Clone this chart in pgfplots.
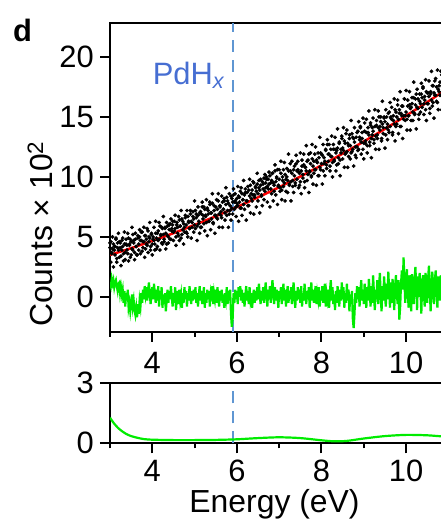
\documentclass[border=0pt]{standalone}
\usepackage{fontspec}
\setmainfont{Liberation Sans}
\usepackage{pgfplots}
\usepackage{pgfplotstable}
\pgfplotsset{compat=1.18}

\definecolor{resgreen}{RGB}{0,235,0}
\definecolor{pdblue}{RGB}{70,110,210}
\definecolor{dashblue}{RGB}{95,150,210}

% energy, two counts readings per step, residual (counts x 10^2)
\pgfplotstableread{
x y1 y2 r
3.00 4.1 4.5 1.2
3.02 4.6 2.9 0.9
3.04 3.6 3.7 1.5
3.06 4.0 5.0 1.1
3.08 4.4 2.5 1.4
3.10 3.9 4.2 0.8
3.12 4.2 3.5 1.2
3.14 4.8 4.9 1.4
3.16 3.2 2.9 0.9
3.18 4.5 4.1 0.5
3.20 3.9 5.3 1.1
3.22 4.6 3.3 1.2
3.24 4.1 4.5 0.3
3.26 3.4 2.6 0.8
3.28 4.7 3.9 0.2
3.30 4.2 4.9 0.6
3.32 3.0 3.6 -0.5
3.34 4.4 5.4 0.5
3.36 3.7 3.1 -0.8
3.38 4.8 4.4 0.3
3.40 4.3 3.9 -0.3
3.42 3.6 5.3 0.6
3.44 4.9 3.0 -0.9
3.46 4.4 4.3 -0.5
3.48 3.3 4.8 -1.2
3.50 4.6 3.5 -0.6
3.52 4.0 5.8 0.2
3.54 5.2 3.9 -0.8
3.56 4.5 4.7 -0.3
3.58 3.7 3.1 -1.1
3.60 4.8 5.3 -1.5
3.62 4.2 4.2 -0.9
3.64 3.5 3.5 -1.7
3.66 4.9 5.1 -0.6
3.68 4.4 3.9 -1.4
3.70 5.0 5.6 -0.3
3.72 3.6 4.7 -0.8
3.74 4.7 5.4 0.3
3.76 5.4 3.8 -0.5
3.78 4.1 4.6 0.6
3.80 4.6 5.8 -0.2
3.82 5.1 3.3 0.9
3.84 4.0 5.1 0.2
3.86 4.8 4.4 0.8
3.88 4.3 5.7 -0.3
3.90 5.5 3.7 0.5
3.92 4.6 5.0 1.2
3.94 4.9 6.2 0.3
3.96 3.9 4.2 -0.6
3.98 5.2 5.3 0.2
4.00 4.4 3.5 0.8
4.02 5.0 4.8 -0.2
4.04 4.7 5.8 1.1
4.06 3.9 4.4 0.3
4.08 5.3 6.3 -0.5
4.10 4.9 4.0 0.6
4.12 4.2 5.3 -0.3
4.14 5.5 4.7 0.9
4.16 4.8 6.2 -0.8
4.18 5.9 3.9 0.5
4.20 5.1 5.2 -0.2
4.22 4.5 5.8 0.8
4.24 5.7 4.4 -0.9
4.26 5.2 6.7 0.2
4.28 4.6 4.8 -0.6
4.30 5.8 5.7 0.3
4.32 5.3 4.0 -1.2
4.34 4.4 6.2 -0.3
4.36 5.9 5.1 0.6
4.38 5.0 4.5 -0.5
4.40 5.6 6.0 0.5
4.42 6.1 4.8 -0.2
4.44 4.8 6.5 0.9
4.46 5.5 5.7 0.0
4.48 6.0 6.3 -0.8
4.50 5.4 4.7 0.3
4.52 6.3 5.5 -0.5
4.54 5.7 6.8 0.8
4.56 5.0 4.3 -1.1
4.58 6.2 6.0 -0.2
4.60 5.8 5.3 0.5
4.62 5.1 6.7 -0.6
4.64 6.4 4.7 0.6
4.66 5.9 5.9 -0.3
4.68 4.9 7.2 0.2
4.70 6.5 5.2 -0.9
4.72 5.6 6.3 0.3
4.74 6.1 4.4 -0.5
4.76 5.4 5.8 0.8
4.78 6.6 6.8 -0.2
4.80 6.0 5.4 0.5
4.82 5.3 7.2 -0.8
4.84 6.7 5.0 0.3
4.86 6.2 6.3 -0.3
4.88 5.7 5.7 0.9
4.90 6.9 7.2 0.0
4.92 6.3 4.9 -0.6
4.94 5.8 6.2 0.5
4.96 7.1 6.7 -0.3
4.98 6.5 5.4 0.6
5.00 6.0 8.0 -0.2
5.02 7.2 5.7 0.8
5.04 6.6 6.9 -0.5
5.06 5.9 4.7 0.3
5.08 6.8 7.5 -0.8
5.10 6.3 6.1 0.2
5.12 7.0 5.3 0.9
5.14 5.8 7.1 -0.3
5.16 6.9 5.8 0.5
5.18 7.5 7.9 -0.6
5.20 6.5 6.8 0.0
5.22 6.1 7.5 0.8
5.24 7.3 5.5 -0.9
5.26 6.8 6.7 0.3
5.28 6.2 8.1 -0.5
5.30 7.4 5.1 0.6
5.32 6.9 7.2 -0.2
5.34 6.3 6.3 0.5
5.36 7.7 7.9 -0.8
5.38 7.0 5.6 0.2
5.40 6.5 7.0 -0.3
5.42 7.8 8.6 0.9
5.44 6.2 6.1 -0.6
5.46 7.2 7.6 0.3
5.48 6.8 5.3 -0.2
5.50 7.5 6.8 0.6
5.52 6.6 8.1 -0.5
5.54 7.3 6.5 0.8
5.56 8.0 8.6 0.0
5.58 6.9 5.8 -0.8
5.60 7.6 7.5 0.5
5.62 7.1 6.8 -0.3
5.64 6.6 8.4 0.6
5.66 7.9 5.8 -0.5
5.68 7.3 7.3 0.2
5.70 8.2 8.0 -0.9
5.72 7.0 6.4 0.3
5.74 7.7 9.1 -0.2
5.76 8.3 6.8 0.8
5.78 7.2 8.0 -0.6
5.80 7.8 5.8 0.5
5.82 6.9 8.6 -0.3
5.84 7.6 7.2 0.6
5.86 8.4 6.4 -1.4
5.88 7.4 8.2 -2.5
5.90 7.9 6.9 -1.8
5.92 8.5 9.0 0.3
5.94 7.3 7.9 -0.5
5.96 8.0 8.6 0.6
5.98 7.5 6.7 -0.2
6.00 8.2 7.8 0.5
6.02 7.6 9.2 -0.6
6.04 8.4 6.3 0.8
6.06 7.9 8.3 0.0
6.08 8.8 7.4 0.9
6.10 7.4 9.1 -0.3
6.12 8.6 6.8 0.6
6.14 8.1 8.1 -0.5
6.16 7.7 9.7 0.3
6.18 8.5 7.3 -0.8
6.20 9.0 8.7 0.2
6.22 8.0 6.4 0.9
6.24 8.7 8.0 -0.3
6.26 7.6 9.2 0.5
6.28 8.9 7.6 -0.6
6.30 8.4 9.8 0.8
6.32 9.3 7.0 -0.2
6.34 8.2 8.6 0.3
6.36 8.9 8.0 -0.9
6.38 8.5 9.6 0.0
6.40 9.5 6.9 0.6
6.42 8.3 8.5 -0.5
6.44 9.1 9.2 0.5
6.46 8.8 7.5 -0.3
6.48 9.4 10.3 0.8
6.50 8.6 8.0 -0.2
6.52 9.7 9.1 1.1
6.54 8.9 7.0 0.2
6.56 9.3 9.8 -0.6
6.58 8.5 8.4 0.5
6.60 9.6 7.6 -0.3
6.62 9.0 9.4 0.8
6.64 9.9 8.1 -0.5
6.66 8.8 10.2 0.3
6.68 9.5 9.1 1.2
6.70 10.0 9.8 0.2
6.72 9.2 7.9 -0.8
6.74 9.8 9.0 0.6
6.76 9.4 10.4 -0.2
6.78 10.1 7.5 0.9
6.80 9.0 9.5 -0.5
6.82 9.7 8.6 0.3
6.84 10.3 10.3 1.4
6.86 9.5 8.0 0.5
6.88 8.8 9.3 -0.6
6.90 10.5 11.0 0.8
6.92 9.6 8.5 -0.3
6.94 10.0 9.9 0.6
6.96 10.6 7.7 0.0
6.98 9.3 9.2 -0.9
7.00 9.8 10.6 0.5
7.02 9.1 8.8 -0.2
7.04 10.3 11.3 0.8
7.06 8.9 8.1 -0.6
7.08 9.7 10.0 0.3
7.10 10.6 9.2 1.1
7.12 9.5 11.2 -0.3
7.14 10.2 8.0 0.6
7.16 8.8 9.8 -0.8
7.18 10.0 10.7 0.2
7.20 9.7 8.7 0.9
7.22 10.5 11.9 -0.5
7.24 9.4 9.3 0.5
7.26 11.1 10.5 -0.2
7.28 9.6 8.0 0.8
7.30 10.3 11.3 -0.6
7.32 9.2 9.7 0.3
7.34 10.6 8.7 1.2
7.36 10.1 10.9 0.0
7.38 9.5 9.3 -0.9
7.40 11.1 11.8 0.5
7.42 9.8 10.5 -0.3
7.44 10.6 11.3 0.8
7.46 10.4 9.1 -0.2
7.48 9.3 10.3 0.6
7.50 9.6 12.0 -0.5
7.52 10.5 8.6 0.9
7.54 11.4 10.9 -0.8
7.56 10.2 9.9 0.3
7.58 11.0 11.9 -0.3
7.60 9.6 9.1 1.1
7.62 10.8 10.8 0.2
7.64 10.5 12.6 -0.6
7.66 11.3 9.7 0.5
7.68 10.2 11.4 -0.2
7.70 11.9 8.7 0.8
7.72 10.4 10.5 -0.9
7.74 11.1 12.0 0.3
7.76 10.0 10.1 1.2
7.78 11.5 12.7 -0.3
7.80 10.9 9.4 0.6
7.82 10.3 11.3 -0.5
7.84 11.9 10.6 0.2
7.86 10.6 12.5 0.9
7.88 11.4 9.3 -0.6
7.90 11.2 11.2 0.3
7.92 10.1 12.0 -0.2
7.94 11.6 10.1 0.8
7.96 10.8 13.3 -0.8
7.98 12.0 10.6 0.5
8.00 11.1 11.9 -0.3
8.02 11.8 9.4 0.9
8.04 10.5 12.7 -0.5
8.06 11.6 11.1 0.2
8.08 11.3 10.1 1.1
8.10 12.2 12.3 -0.8
8.12 11.0 10.7 0.3
8.14 12.7 13.1 -0.2
8.16 11.3 11.9 0.6
8.18 11.9 12.7 -0.9
8.20 10.9 10.5 0.5
8.22 12.3 11.7 1.4
8.24 11.7 13.4 -0.3
8.26 11.2 10.0 0.8
8.28 12.7 12.3 -0.6
8.30 11.4 11.3 0.2
8.32 12.3 13.3 -1.1
8.34 12.0 10.5 0.5
8.36 11.0 12.2 -0.5
8.38 12.4 14.0 0.9
8.40 11.6 11.1 0.0
8.42 12.9 12.8 -0.8
8.44 11.4 10.1 0.6
8.46 12.3 12.0 -0.3
8.48 13.2 13.4 1.2
8.50 12.4 11.5 -0.2
8.52 12.2 14.1 0.8
8.54 13.0 10.8 -0.9
8.56 11.9 12.8 0.3
8.58 13.6 12.0 -0.5
8.60 12.1 13.9 1.1
8.62 12.8 10.8 -0.3
8.64 11.7 12.6 0.6
8.66 13.2 13.5 -1.2
8.68 12.6 11.5 0.2
8.70 12.0 14.7 -0.6
8.72 13.6 12.1 0.5
8.74 12.3 13.3 -1.8
8.76 13.2 10.9 -2.6
8.78 12.9 14.1 -1.4
8.80 11.8 12.5 0.3
8.82 13.3 11.6 -0.5
8.84 12.5 13.7 0.9
8.86 13.8 12.2 -0.2
8.88 12.3 14.6 0.8
8.90 13.1 13.3 -0.8
8.92 14.1 14.2 0.5
8.94 12.9 11.9 1.4
8.96 13.7 13.2 -0.3
8.98 12.3 14.9 0.6
9.00 12.8 11.5 -0.6
9.02 14.5 13.8 1.1
9.04 13.0 12.8 0.2
9.06 13.7 14.8 -0.9
9.08 12.6 12.0 0.8
9.10 14.1 13.7 -0.3
9.12 13.5 15.5 1.5
9.14 12.9 12.6 0.5
9.16 14.5 14.3 -0.8
9.18 13.2 11.6 0.9
9.20 14.1 13.5 -0.5
9.22 13.8 14.9 1.8
9.24 12.8 13.1 0.3
9.26 14.2 15.6 -1.1
9.28 13.4 12.3 0.6
9.30 14.7 14.3 -0.2
9.32 13.2 13.5 1.4
9.34 14.1 15.5 -0.6
9.36 15.0 12.3 0.8
9.38 13.9 14.2 2.0
9.40 14.6 15.0 0.0
9.42 13.2 13.0 -1.2
9.44 14.4 16.3 0.9
9.46 14.1 13.6 -0.3
9.48 15.0 14.9 1.7
9.50 14.6 12.4 0.3
9.52 13.5 15.6 -0.8
9.54 15.0 14.1 1.1
9.56 14.4 13.1 -0.2
9.58 13.9 15.3 2.1
9.60 15.4 13.7 0.5
9.62 14.2 16.2 -0.9
9.64 15.0 14.9 1.2
9.66 14.8 15.8 -0.5
9.68 13.7 13.5 1.5
9.70 15.1 14.7 0.2
9.72 14.4 16.5 -1.1
9.74 15.6 13.0 0.9
9.76 14.2 15.4 1.8
9.78 15.0 14.4 0.3
9.80 16.0 16.4 -0.6
9.82 14.8 13.6 1.4
9.84 15.6 15.3 -1.9
9.86 14.2 17.1 -0.8
9.88 15.3 14.2 1.1
9.90 15.1 15.9 2.2
9.92 15.9 13.2 0.6
9.94 14.8 15.1 3.3
9.96 16.5 16.5 1.5
9.98 15.1 14.7 -0.5
10.00 15.4 17.2 1.2
10.02 14.8 13.9 2.3
10.04 16.4 15.9 0.3
10.06 15.1 15.1 -0.9
10.08 16.0 17.1 1.8
10.10 15.7 13.9 0.6
10.12 14.7 15.8 -1.2
10.14 16.1 16.6 1.9
10.16 15.4 14.7 0.5
10.18 16.6 17.9 -0.6
10.20 15.2 15.3 1.4
10.22 16.0 16.5 2.5
10.24 16.9 14.0 0.8
10.26 15.8 17.3 -1.1
10.28 16.5 15.7 1.7
10.30 15.2 14.8 0.0
10.32 16.3 16.9 2.0
10.34 16.1 15.4 0.6
10.36 16.9 17.8 -1.4
10.38 15.8 16.6 1.2
10.40 17.5 17.4 1.8
10.42 16.1 15.2 0.3
10.44 16.7 16.4 -0.8
10.46 15.6 18.1 2.0
10.48 17.1 14.7 0.9
10.50 16.1 17.0 -0.5
10.52 17.0 16.1 1.5
10.54 16.7 18.0 2.6
10.56 15.7 15.3 0.6
10.58 17.1 16.9 -1.2
10.60 16.4 18.8 1.1
10.62 17.6 15.9 2.1
10.64 16.2 17.6 0.2
10.66 17.0 14.9 -0.6
10.68 18.0 16.8 1.4
10.70 16.8 18.2 2.2
10.72 17.5 16.3 0.5
10.74 16.2 18.9 -0.9
10.76 17.3 15.6 1.7
10.78 17.1 17.6 0.8
10.80 17.9 16.8 -0.3
10.82 16.8 18.8 1.8
10.84 18.5 15.6 0.6
10.86 17.1 17.5 -0.8
10.88 17.7 18.3 1.2
10.90 16.7 16.4 0.3
}\spectrum

\begin{document}
\begin{tikzpicture}
\pgfplotsset{
  panel/.style={
    scale only axis,
    width=380.7bp,
    xmin=3, xmax=12,
    axis line style={line width=2bp},
    every tick/.style={line width=2bp, black},
    tick align=outside,
    tick pos=left,
    xtick={4,6,8,10},
    minor xtick={3,5,7,9,11},
    major tick length=10bp,
    minor tick length=5bp,
    ticklabel style={font=\fontsize{31}{36}\selectfont},
    xticklabel style={inner sep=0pt, yshift=-10bp},
    yticklabel style={inner sep=0pt, xshift=-6bp},
    /pgf/number format/assume math mode=true,
  }
}
% upper panel: spectrum, fit and residual
\begin{axis}[panel, at={(110bp,188.3bp)}, anchor=south west,
  height=309bp, ymin=-2.9, ymax=22.85, ytick={0,5,10,15,20}]
\addplot[dashblue, line width=2bp, dash pattern=on 12bp off 8bp] coordinates {(5.9,-2.9) (5.9,22.85)};
\addplot[only marks, mark=*, mark size=1.7bp, black] table[x=x, y=y1] {\spectrum};
\addplot[only marks, mark=*, mark size=1.7bp, black] table[x=x, y=y2] {\spectrum};
\addplot[resgreen, line width=2.2bp] table[x=x, y=r] {\spectrum};
\addplot[red, line width=2.5bp, smooth] coordinates {
  (3.0,3.50) (3.5,4.06) (4.0,4.67) (4.5,5.31) (5.0,6.00) (5.5,6.72)
  (6.0,7.49) (6.5,8.30) (7.0,9.14) (7.5,10.03) (8.0,10.97) (8.5,11.94)
  (9.0,12.95) (9.5,14.00) (10.0,15.10) (10.5,16.23) (11.0,17.41)
  (11.5,18.62) (12.0,19.89)};
\node[pdblue, anchor=base east, font=\fontsize{31}{36}\selectfont, inner sep=0pt]
  at (axis cs:5.72,17.67) {PdH\textsubscript{\textit{x}}};
\end{axis}
% lower panel
\begin{axis}[panel, at={(110bp,76.7bp)}, anchor=south west,
  height=60bp, ymin=0, ymax=3, ytick={0,3},
  xticklabel style={yshift=3.5bp}]
\addplot[dashblue, line width=2bp, dash pattern=on 12bp off 8bp] coordinates {(5.9,0) (5.9,3)};
\addplot[resgreen, line width=2.2bp, smooth] coordinates {
  (3.0,1.28) (3.1,0.98) (3.2,0.75) (3.3,0.58) (3.4,0.45) (3.5,0.36)
  (3.6,0.30) (3.7,0.25) (3.8,0.21) (4.0,0.18) (4.5,0.16) (5.0,0.16)
  (5.5,0.17) (6.0,0.20) (6.5,0.26) (7.0,0.30) (7.5,0.26) (8.0,0.15)
  (8.3,0.10) (8.6,0.12) (9.0,0.24) (9.5,0.36) (10.0,0.42) (10.5,0.40)
  (10.9,0.34) (11.5,0.30) (12.0,0.30)};
\end{axis}
\node[rotate=90, anchor=base, font=\fontsize{32}{38}\selectfont, inner sep=0pt]
  at (52bp,286bp) {Counts × 10\textsuperscript{2}};
\node[anchor=base, font=\fontsize{32}{38}\selectfont, inner sep=0pt]
  at (274.5bp,7.5bp) {Energy (eV)};
\node[anchor=base west, font=\bfseries\fontsize{31}{36}\selectfont, inner sep=0pt]
  at (13bp,478bp) {d};
\pgfresetboundingbox
\useasboundingbox (0,0) rectangle (441bp,520bp);
\end{tikzpicture}
\end{document}
